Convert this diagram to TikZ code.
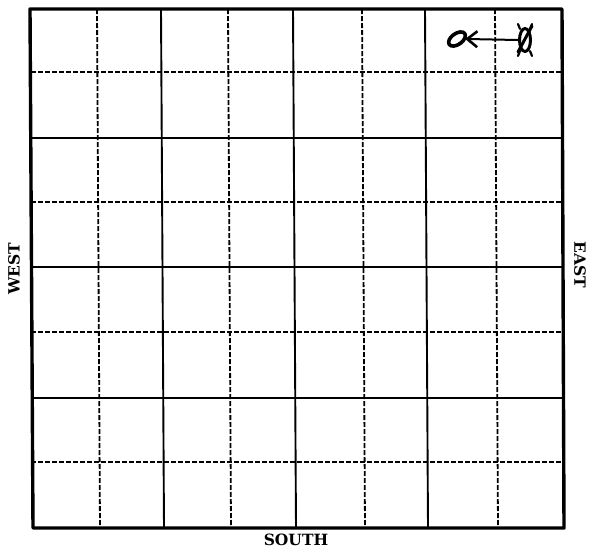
\documentclass[tikz,border=0pt]{standalone}
\usepackage{fontspec}
\setmainfont{DejaVu Serif}
\usetikzlibrary{arrows.meta}
\begin{document}
\begin{tikzpicture}[x=1pt,y=-1pt,
  border/.style={line width=3.4pt, line join=round},
  solidline/.style={line width=1.9pt},
  dashline/.style={line width=1.8pt, dash pattern=on 5pt off 2pt},
  dirlabel/.style={font=\bfseries\fontsize{15.5}{15.5}\selectfont, inner sep=0pt},
  hand/.style={line width=2.8pt, line cap=round, line join=round},
  spot/.style={inner sep=0pt, minimum width=20pt, minimum height=20pt},
]
\useasboundingbox (0,0) rectangle (589,550);
% vertical grid lines (top x / bottom x)
\foreach \t/\b [count=\i] in {97/100,161/164,228/231,293/296,362/365,425/428,495/498}{
  \ifodd\i
    \draw[dashline] (\t,9) -- (\b,528);
  \else
    \draw[solidline] (\t,9) -- (\b,528);
  \fi
}
% horizontal grid lines
\foreach \y [count=\i] in {72,138,202,267,332,398,462}{
  \ifodd\i
    \draw[dashline] (31,\y) -- (563,\y);
  \else
    \draw[solidline] (31,\y) -- (563,\y);
  \fi
}
% outer border
\draw[border] (30,9) -- (562,9) -- (564,528) -- (33,528) -- cycle;
% labels
\node[dirlabel, rotate=90] (west) at (14,269) {WEST};
\node[dirlabel, rotate=-90] (east) at (580,265) {EAST};
\node[dirlabel] (south) at (296,540) {SOUTH};
% handwritten mark: O <- crossed symbol
\node[spot] (o) at (457,39) {};
\draw[hand, line width=3.6pt, rotate around={35:(o.center)}] (o.center) ellipse [x radius=9.5, y radius=5.5];
\node[spot, minimum width=14pt, minimum height=26pt] (bug) at (525,40) {};
\draw[hand, line width=3pt] (bug.center) ellipse [x radius=5.5, y radius=11.5];
\draw[hand, line width=3pt] (518,52) -- (532,26);
\draw[hand, line width=2.2pt] (520,29) -- (518,24);
\draw[hand, line width=2.2pt] (530,29) -- (532,24);
\draw[hand, line width=2.2pt] (520,51) -- (518,56);
\draw[hand, line width=2.2pt] (530,51) -- (532,56);
\draw[line width=2pt, shorten >=-2pt, -{Straight Barb[length=10pt,width=16pt,line width=2.6pt]}] (bug.west) -- (o.east);
\end{tikzpicture}
\end{document}
